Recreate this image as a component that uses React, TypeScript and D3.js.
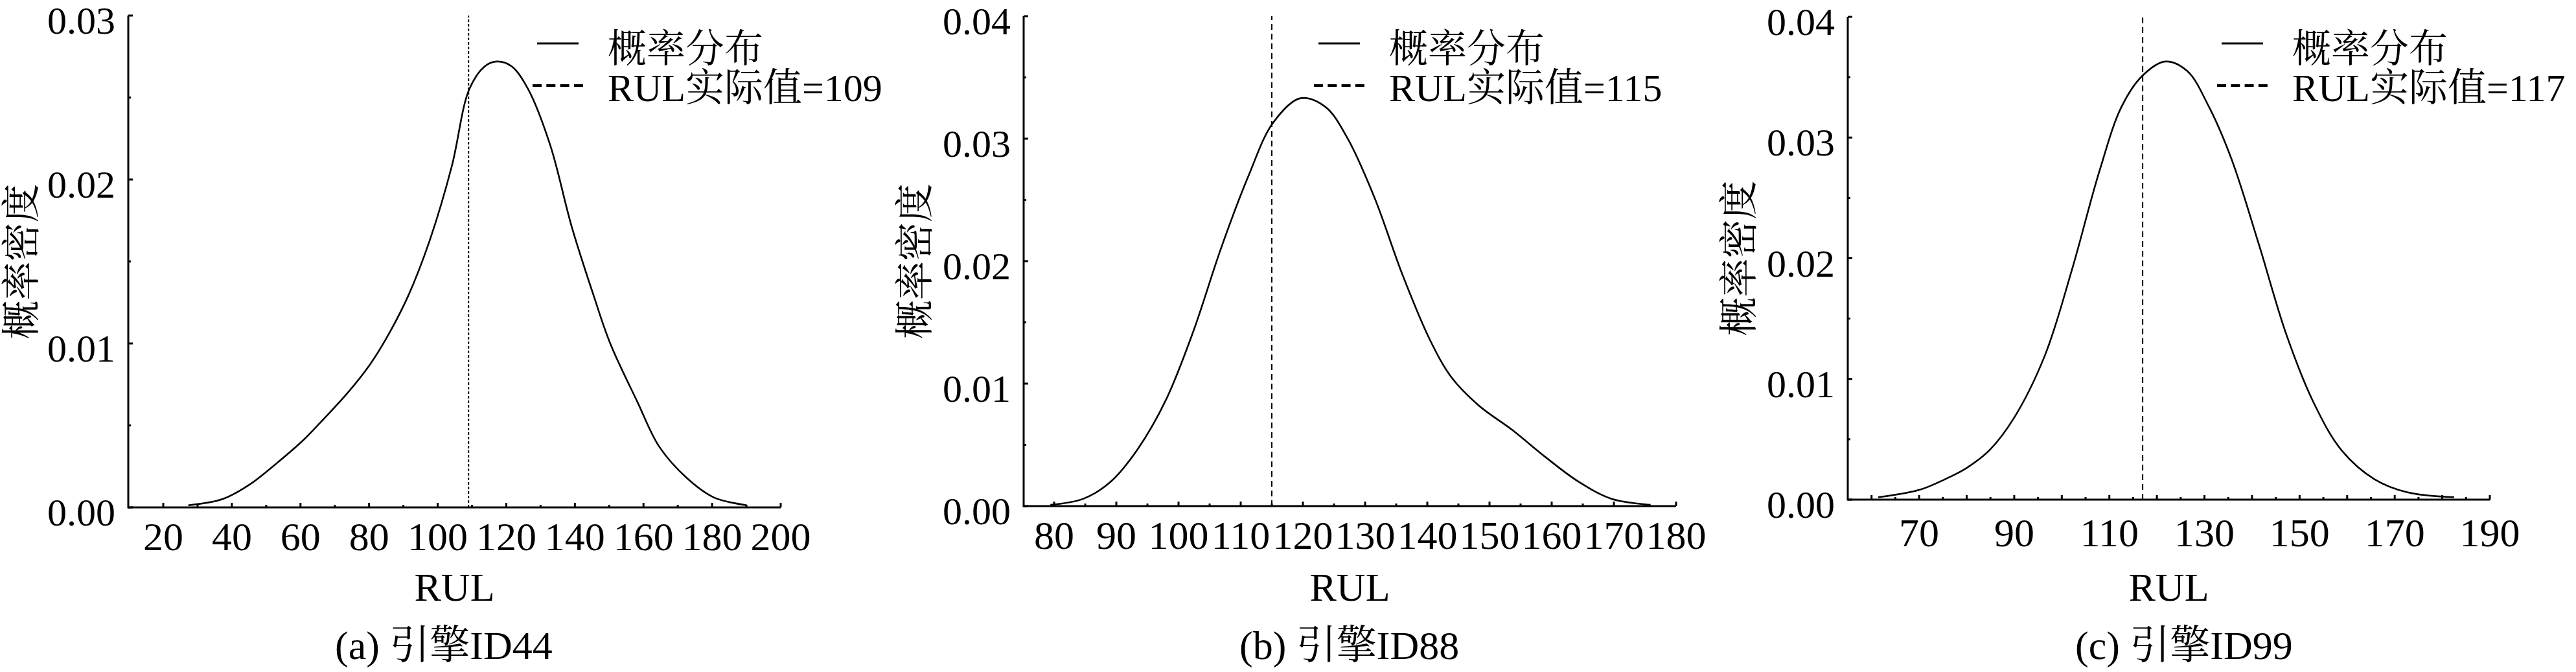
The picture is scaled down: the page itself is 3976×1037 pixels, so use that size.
import React from "react";
import * as d3 from "d3";

// ---------- data ----------
const rulA = [27.3, 37.2, 45.2, 53.1, 60.3, 65.9, 73.8, 80.2, 85.0, 91.4, 97.7, 104.1, 109.2, 113.7, 117.3, 121.6, 126.4, 132.8, 139.1, 145.5, 150.3, 158.3, 164.6, 172.6, 180.6, 190.1];
const densA = [0.00013, 0.0005, 0.0014, 0.0027, 0.004, 0.0052, 0.007, 0.0087, 0.0103, 0.0129, 0.0163, 0.0208, 0.0255, 0.0269, 0.0272, 0.0269, 0.0255, 0.0221, 0.0171, 0.0129, 0.01, 0.0064, 0.0037, 0.0018, 0.0006, 0.00013];

const rulB = [79.4, 84.7, 89.1, 93.5, 98.0, 102.4, 106.8, 111.2, 115.2, 119.6, 123.6, 127.1, 131.5, 136.0, 140.4, 143.9, 148.3, 153.7, 159.0, 164.3, 169.6, 175.9];
const densB = [0.0001, 0.0006, 0.002, 0.0047, 0.0087, 0.0143, 0.021, 0.0269, 0.0313, 0.0333, 0.0326, 0.0301, 0.0252, 0.0189, 0.0136, 0.0105, 0.0082, 0.0062, 0.004, 0.002, 0.0006, 0.0001];

const rulC = [61.4, 70, 75.5, 79.9, 84.8, 90.0, 96.4, 102.1, 107.9, 112.5, 116.9, 121.8, 126.4, 131.0, 135.7, 141.4, 147.2, 153.0, 158.8, 165.7, 172.7, 182.5];
const densC = [0.0002, 0.0008, 0.0017, 0.0026, 0.0041, 0.0068, 0.0119, 0.019, 0.0272, 0.0325, 0.0351, 0.0363, 0.0355, 0.0325, 0.0282, 0.0212, 0.0137, 0.008, 0.0041, 0.0017, 0.0006, 0.0002];

const actualRUL = [109, 115, 117];
const captions = ["(a) 引擎ID44", "(b) 引擎ID88", "(c) 引擎ID99"];
const legendLabels = ["概率分布", "RUL实际值="];

const xLabelsA = [20, 40, 60, 80, 100, 120, 140, 160, 180, 200];
const xMinorA = [30, 50, 70, 90, 110, 130, 150, 170, 190];
const xLabelsB = [80, 90, 100, 110, 120, 130, 140, 150, 160, 170, 180];
const xMinorB = [85, 95, 105, 115, 125, 135, 145, 155, 165, 175];
const xLabelsC = [70, 90, 110, 130, 150, 170, 190];
const xMajorC = [60, 70, 80, 90, 100, 110, 120, 130, 140, 150, 160, 170, 180, 190];
const xMinorC = [65, 75, 85, 95, 105, 115, 125, 135, 145, 155, 165, 175, 185];

const yTicksA = [0, 0.01, 0.02, 0.03];
const yMinorA = [0.005, 0.015, 0.025];
const yTicksBC = [0, 0.01, 0.02, 0.03, 0.04];
const yMinorBC = [0.005, 0.015, 0.025, 0.035];

const xDomains: [number, number][] = [[9.8, 200], [75.1, 180], [55, 190]];
const yDomains: [number, number][] = [[0, 0.03], [0, 0.04], [0, 0.04]];

// ---------- layout ----------
const W = 3976;
const H = 1037;
const FONT = "'Liberation Serif', 'Times New Roman', 'Noto Serif CJK SC', 'Noto Sans CJK SC', serif";
const XTICK_FS = 62;
const YTICK_FS = 60;
const LEG_FS = 60;
const LABEL_FS = 62;

const panels = [
  {
    rul: rulA, dens: densA, xLabels: xLabelsA, xMajor: xLabelsA, xMinor: xMinorA,
    yTicks: yTicksA, yMinor: yMinorA, left: 198, right: 1205, top: 24, bottom: 783,
    xLabelBase: 849, capX: 517, legX: 938, vDash: "4,3", yLabOff: 164,
  },
  {
    rul: rulB, dens: densB, xLabels: xLabelsB, xMajor: xLabelsB, xMinor: xMinorB,
    yTicks: yTicksBC, yMinor: yMinorBC, left: 1580, right: 2587, top: 25, bottom: 781,
    xLabelBase: 847, capX: 1913, legX: 2144, vDash: "9,6", yLabOff: 167,
  },
  {
    rul: rulC, dens: densC, xLabels: xLabelsC, xMajor: xMajorC, xMinor: xMinorC,
    yTicks: yTicksBC, yMinor: yMinorBC, left: 2852, right: 3843, top: 26, bottom: 771,
    xLabelBase: 843, capX: 3203, legX: 3538, vDash: "9,6", yLabOff: 167,
  },
];

function Panel({ p, i }: { p: (typeof panels)[number]; i: number }) {
  const x = d3.scaleLinear().domain(xDomains[i]).range([p.left, p.right]);
  const y = d3.scaleLinear().domain(yDomains[i]).range([p.bottom, p.top]);
  const pts = p.rul.map((r, k) => [r, p.dens[k]] as [number, number]);
  const line = d3
    .line<[number, number]>()
    .x((d) => x(d[0]))
    .y((d) => y(d[1]))
    .curve(d3.curveCatmullRom.alpha(0.5));
  const fmt = d3.format(".2f");
  const xv = x(actualRUL[i]);
  const midX = (p.left + p.right) / 2;
  const midY = (p.top + p.bottom) / 2;
  const ax = 3;
  return (
    <g>
      {/* curve */}
      <path d={line(pts) || ""} fill="none" stroke="#000" strokeWidth={2.6} strokeLinejoin="round" />
      {/* actual RUL line */}
      <line x1={xv} x2={xv} y1={p.bottom} y2={p.top} stroke="#000" strokeWidth={2} strokeDasharray={p.vDash} />
      {/* axes */}
      <line x1={p.left} x2={p.right} y1={p.bottom} y2={p.bottom} stroke="#000" strokeWidth={ax} />
      <line x1={p.left} x2={p.left} y1={p.bottom + 1.5} y2={p.top} stroke="#000" strokeWidth={ax} />
      {/* x ticks */}
      {p.xMajor.map((t) => (
        <line key={"xM" + t} x1={x(t)} x2={x(t)} y1={p.bottom} y2={p.bottom - 7} stroke="#000" strokeWidth={ax} />
      ))}
      {p.xMinor.map((t) => (
        <line key={"xm" + t} x1={x(t)} x2={x(t)} y1={p.bottom} y2={p.bottom - 4} stroke="#000" strokeWidth={ax} />
      ))}
      {p.xLabels.map((t) => (
        <text key={"xl" + t} x={x(t)} y={p.xLabelBase} textAnchor="middle" fontSize={XTICK_FS} fontFamily={FONT}>
          {t}
        </text>
      ))}
      {/* y ticks */}
      {p.yTicks.map((t) => (
        <line key={"yM" + t} x1={p.left} x2={p.left + 7} y1={y(t)} y2={y(t)} stroke="#000" strokeWidth={ax} />
      ))}
      {p.yMinor.map((t) => (
        <line key={"ym" + t} x1={p.left} x2={p.left + 4} y1={y(t)} y2={y(t)} stroke="#000" strokeWidth={ax} />
      ))}
      {p.yTicks.map((t) => (
        <text key={"yl" + t} x={p.left - 20} y={y(t) + 28} textAnchor="end" fontSize={YTICK_FS} fontFamily={FONT}>
          {fmt(t)}
        </text>
      ))}
      {/* axis titles */}
      <text x={midX} y={927} textAnchor="middle" fontSize={LABEL_FS} fontFamily={FONT}>
        RUL
      </text>
      <text
        transform={`translate(${p.left - p.yLabOff},${midY}) rotate(-90)`}
        textAnchor="middle"
        dominantBaseline="central"
        fontSize={60}
        fontFamily={FONT}
      >
        概率密度
      </text>
      {/* legend */}
      <line x1={p.legX - 109} x2={p.legX - 45} y1={67} y2={67} stroke="#000" strokeWidth={3} />
      <text x={p.legX} y={96} fontSize={LEG_FS} fontFamily={FONT}>
        {legendLabels[0]}
      </text>
      <line x1={p.legX - 116} x2={p.legX - 38} y1={132} y2={132} stroke="#000" strokeWidth={4} strokeDasharray="14,7.3" />
      <text x={p.legX} y={156} fontSize={LEG_FS} fontFamily={FONT}>
        {legendLabels[1] + actualRUL[i]}
      </text>
      {/* caption */}
      <text x={p.capX} y={1017} fontSize={LABEL_FS} fontFamily={FONT}>
        {captions[i]}
      </text>
    </g>
  );
}

export default function App() {
  return (
    <div style={{ position: "absolute", left: 0, top: 0, width: W, height: H, background: "#fff" }}>
      <svg width={W} height={H} viewBox={`0 0 ${W} ${H}`} style={{ display: "block" }}>
        <rect x={0} y={0} width={W} height={H} fill="#fff" />
        {panels.map((p, i) => (
          <Panel key={i} p={p} i={i} />
        ))}
      </svg>
    </div>
  );
}
